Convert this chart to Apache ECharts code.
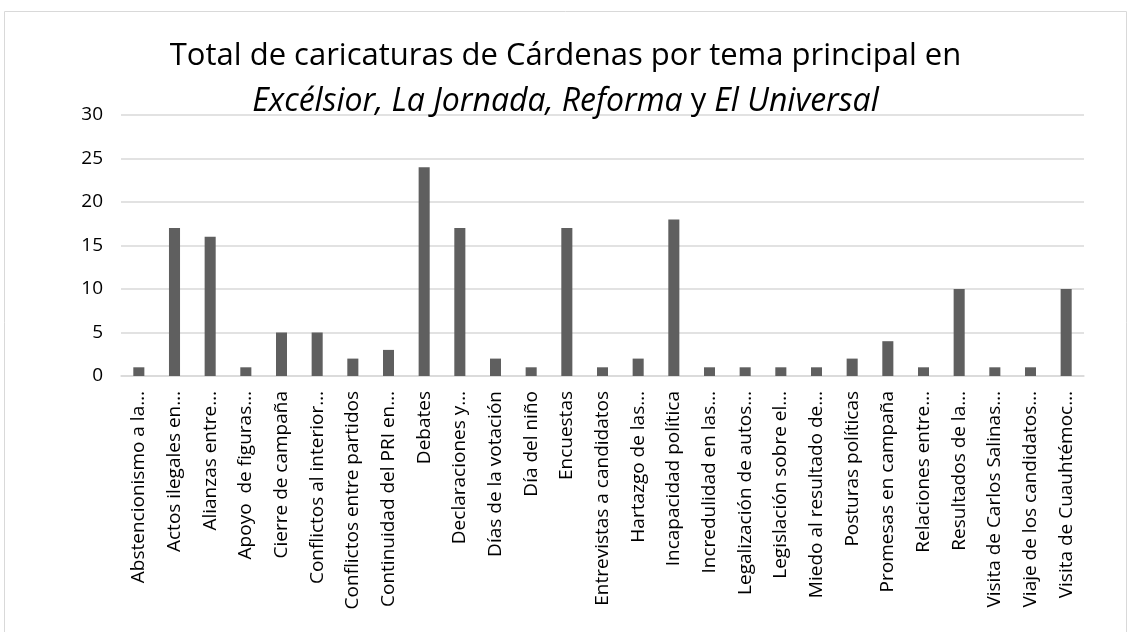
<!DOCTYPE html>
<html>
<head>
<meta charset="utf-8">
<script src="https://cdn.jsdelivr.net/npm/echarts@6/dist/echarts.min.js"></script>
<style>
  html, body { margin: 0; padding: 0; background: #fff; }
  #chart { width: 1131px; height: 632px; }
</style>
</head>
<body>
<div id="chart"></div>
<script>
// temas y totales de caricaturas
const categories = [
  'Abstencionismo a la…', 'Actos ilegales en…', 'Alianzas entre…', 'Apoyo  de figuras…',
  'Cierre de campaña', 'Conflictos al interior…', 'Conflictos entre partidos',
  'Continuidad del PRI en…', 'Debates', 'Declaraciones y…', 'Días de la votación',
  'Día del niño', 'Encuestas', 'Entrevistas a candidatos', 'Hartazgo de las…',
  'Incapacidad política', 'Incredulidad en las…', 'Legalización de autos…',
  'Legislación sobre el…', 'Miedo al resultado de…', 'Posturas políticas',
  'Promesas en campaña', 'Relaciones entre…', 'Resultados de la…',
  'Visita de Carlos Salinas…', 'Viaje de los candidatos…', 'Visita de Cuauhtémoc…'
];
const totals = [1, 17, 16, 1, 5, 5, 2, 3, 24, 17, 2, 1, 17, 1, 2, 18, 1, 1, 1, 1, 2, 4, 1, 10, 1, 1, 10];
const yTicks = [0, 5, 10, 15, 20, 25, 30];

const FONT = '"Open Sans", sans-serif';

const chart = echarts.init(document.getElementById('chart'));
const option = {
  animation: false,
  title: {
    left: 'center',
    top: 34,
    padding: 0,
    text: '{n|Total de caricaturas de Cárdenas por tema principal en}\n' +
          '{i|Excélsior, La Jornada, Reforma}{n| y }{i|El Universal}',
    textStyle: {
      fontWeight: 'normal',
      rich: {
        n: {fontFamily: FONT, fontSize: 31, fontWeight: 'normal', color: '#000', lineHeight: 45},
        i: {fontFamily: FONT, fontSize: 32, fontWeight: 'normal', color: '#000', lineHeight: 45, fontStyle: 'italic'}
      }
    }
  },
  graphic: [{
    type: 'rect',
    shape: {x: 4.5, y: 11.5, width: 1122, height: 700},
    style: {fill: 'none', stroke: '#d9d9d9', lineWidth: 1},
    silent: true
  }],
  grid: {left: 121, right: 47, top: 115, bottom: 256, containLabel: false},
  xAxis: {
    type: 'category',
    data: categories,
    axisLine: {lineStyle: {color: '#d9d9d9', width: 1.5}},
    axisTick: {show: false},
    axisLabel: {
      interval: 0,
      rotate: 90,
      margin: 15,
      fontFamily: FONT,
      fontSize: 19,
      color: '#000'
    }
  },
  yAxis: {
    type: 'value',
    min: yTicks[0],
    max: yTicks[yTicks.length - 1],
    interval: 5,
    axisLine: {show: false},
    axisTick: {show: false},
    splitLine: {lineStyle: {color: '#d9d9d9', width: 1.5}},
    axisLabel: {margin: 18, fontFamily: FONT, fontSize: 19, color: '#000'}
  },
  series: [{
    type: 'bar',
    data: totals,
    barWidth: '31%',
    itemStyle: {color: '#5f5f5f'}
  }]
};
chart.setOption(option);
</script>
</body>
</html>
